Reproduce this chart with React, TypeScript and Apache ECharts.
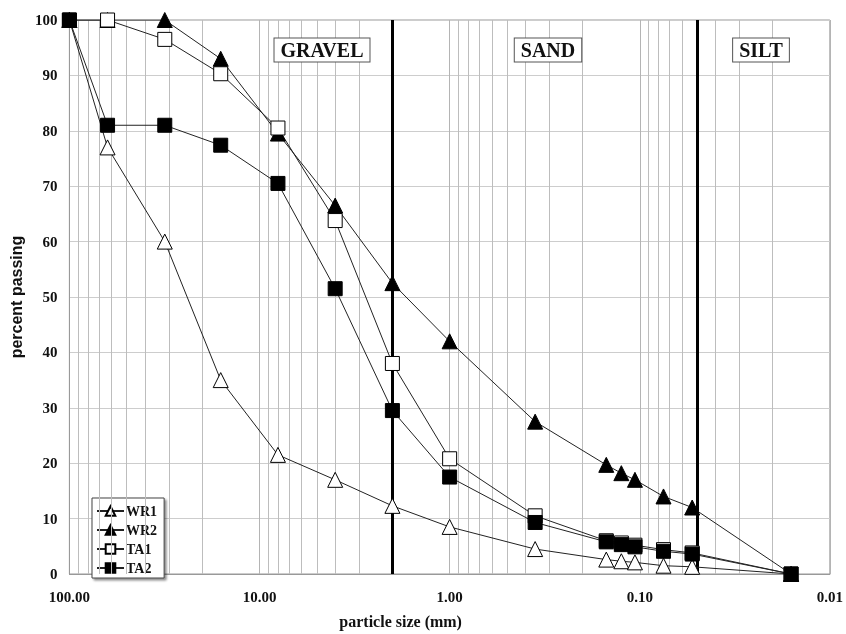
import React, { useEffect, useRef } from "react";
import * as echarts from "echarts";

const sizes = [100, 63, 31.5, 16, 8, 4, 2, 1, 0.355, 0.15, 0.125, 0.106, 0.075, 0.053, 0.016];
const WR1 = [100, 77, 60, 35, 21.5, 17, 12.3, 8.5, 4.5, 2.6, 2.3, 2.1, 1.5, 1.3, 0];
const WR2 = [100, 100, 100, 93, 79.5, 66.5, 52.5, 42, 27.5, 19.7, 18.2, 17, 14, 12, 0];
const TA1 = [100, 100, 96.5, 90.3, 80.5, 63.8, 38, 20.8, 10.5, 6, 5.6, 5.2, 4.4, 3.8, 0];
const TA2 = [100, 81, 81, 77.4, 70.5, 51.5, 29.5, 17.5, 9.3, 5.8, 5.3, 4.9, 4.1, 3.6, 0];
const seriesNames = ["WR1", "WR2", "TA1", "TA2"];
const boundaries = [2, 0.05];
const minorMultipliers = [2, 3, 4, 5, 6, 7, 8, 9];
const zones = [
  { name: "GRAVEL", x: 322 },
  { name: "SAND", x: 548 },
  { name: "SILT", x: 761 },
];

const FONT = "'Times New Roman', 'Liberation Serif', serif";
const SANS_NARROW = "'Liberation Sans Narrow', 'Arial Narrow', 'Liberation Sans', sans-serif";

export default function App() {
  const ref = useRef<HTMLDivElement>(null);
  useEffect(() => {
    if (!ref.current) return;
    const chart = echarts.init(ref.current, null, { renderer: "svg" });
    const minorVals: number[] = [];
    [0.01, 0.1, 1, 10].forEach((d) =>
      minorMultipliers.forEach((m) => minorVals.push(+(d * m).toPrecision(3)))
    );
    const mk = (name: string, data: number[], symbol: string, filled: boolean) => ({
      name,
      type: "line",
      data: sizes.map((s, i) => [s, data[i]]),
      symbol,
      symbolSize: symbol === "triangle" ? 15 : 14,
      lineStyle: { color: "#222", width: 1 },
      itemStyle: { color: filled ? "#000" : "#fff", borderColor: "#000", borderWidth: 1 },
      z: 5,
    });
    chart.setOption({
      animation: false,
      grid: { left: 67, right: 13, top: 20, bottom: 55, show: true, borderColor: "#999", borderWidth: 1 },
      legend: {
        orient: "vertical",
        left: 92,
        top: 498,
        data: seriesNames,
        itemWidth: 27,
        itemHeight: 12,
        itemGap: 5,
        padding: [6, 7, 3, 4],
        backgroundColor: "#fff",
        borderColor: "#444",
        borderWidth: 1,
        shadowColor: "rgba(0,0,0,0.45)",
        shadowOffsetX: 2,
        shadowOffsetY: 2,
        shadowBlur: 2,
        textStyle: {
          fontFamily: FONT,
          fontWeight: "bold",
          fontSize: 14,
          lineHeight: 12,
          color: "#111",
          padding: [2, 0, 0, -3],
        },
      },
      xAxis: {
        type: "log",
        logBase: 10,
        min: 0.01,
        max: 100,
        inverse: true,
        name: "particle size (mm)",
        nameLocation: "middle",
        nameGap: 39,
        nameTextStyle: {
          fontFamily: FONT,
          fontWeight: "bold",
          fontSize: 16,
          color: "#111",
          padding: [0, 98, 0, 0],
        },
        axisLine: { show: true, lineStyle: { color: "#999" } },
        axisTick: { show: false },
        axisLabel: {
          margin: 15,
          fontFamily: FONT,
          fontWeight: "bold",
          fontSize: 15,
          color: "#111",
          formatter: (v: number) => v.toFixed(2),
        },
        splitLine: { show: true, lineStyle: { color: "#b4b4b4", width: 1 } },
      },
      yAxis: {
        type: "value",
        min: 0,
        max: 100,
        interval: 10,
        name: "percent passing",
        nameLocation: "middle",
        nameGap: 42,
        nameTextStyle: { fontFamily: SANS_NARROW, fontWeight: "bold", fontSize: 16, color: "#111" },
        axisLine: { show: true, lineStyle: { color: "#999" } },
        axisTick: { show: false },
        axisLabel: { margin: 12, fontFamily: FONT, fontWeight: "bold", fontSize: 15, color: "#111" },
        splitLine: { show: true, lineStyle: { color: "#cdcdcd", width: 1 } },
      },
      series: [
        {
          name: "grid-minor",
          type: "line",
          data: [],
          silent: true,
          markLine: {
            silent: true,
            symbol: ["none", "none"],
            label: { show: false },
            lineStyle: { color: "#bdbdbd", width: 1, type: "solid" },
            data: minorVals.map((v) => ({ xAxis: v })),
          },
          z: 1,
        },
        {
          name: "boundaries",
          type: "line",
          data: [],
          silent: true,
          markLine: {
            silent: true,
            symbol: ["none", "none"],
            label: { show: false },
            lineStyle: { color: "#000", width: 3, type: "solid" },
            data: boundaries.map((v) => ({ xAxis: v })),
          },
          z: 3,
        },
        mk("WR1", WR1, "triangle", false),
        mk("WR2", WR2, "triangle", true),
        mk("TA1", TA1, "rect", false),
        mk("TA2", TA2, "rect", true),
      ],
      graphic: zones.map((z) => ({
        type: "text",
        x: z.x,
        y: 50,
        z: 10,
        style: {
          text: z.name,
          font: `bold 20px ${FONT}`,
          fill: "#111",
          align: "center",
          verticalAlign: "middle",
          backgroundColor: "#fff",
          borderColor: "#555",
          borderWidth: 1,
          padding: [2, 6, 1, 6],
        },
      })),
    });
    return () => chart.dispose();
  }, []);
  return <div ref={ref} style={{ position: "fixed", left: 0, top: 0, width: 846, height: 634 }} />;
}
